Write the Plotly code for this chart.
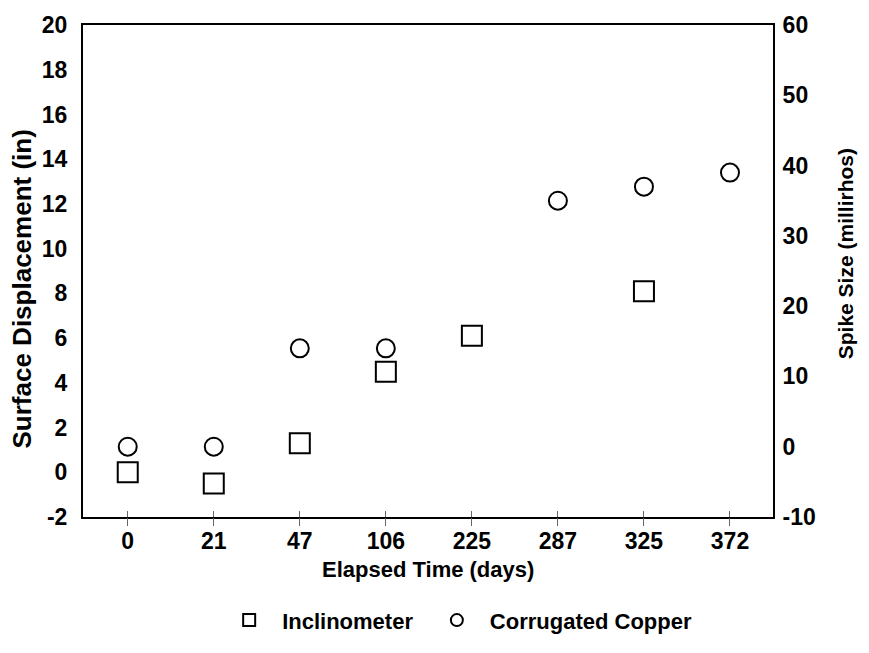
import plotly.graph_objects as go

categories = ["0", "21", "47", "106", "225", "287", "325", "372"]

incl_x = ["0", "21", "47", "106", "225", "325"]
incl_y = [0.0, -0.5, 1.3, 4.5, 6.1, 8.1]

copper_x = ["0", "21", "47", "106", "287", "325", "372"]
copper_y = [0, 0, 14, 14, 35, 37, 39]

left_ticks = [-2, 0, 2, 4, 6, 8, 10, 12, 14, 16, 18, 20]
right_ticks = [-10, 0, 10, 20, 30, 40, 50, 60]

FONT = "Liberation Sans, Arial, sans-serif"
BLACK = "#000000"

fig = go.Figure()

fig.add_trace(go.Scatter(
    x=incl_x, y=incl_y, mode="markers", name="Inclinometer", legend="legend",
    marker=dict(symbol="square-open", size=20, color=BLACK, line=dict(width=2, color=BLACK)),
    xaxis="x", yaxis="y",
))
fig.add_trace(go.Scatter(
    x=copper_x, y=copper_y, mode="markers", name="Corrugated Copper", legend="legend2",
    marker=dict(symbol="circle-open", size=18, color=BLACK, line=dict(width=2, color=BLACK)),
    xaxis="x", yaxis="y2",
))
# helper traces to carry the tick marks crossing the x axis line
fig.add_trace(go.Scatter(x=categories, y=[None] * len(categories), xaxis="x2", yaxis="y",
                         showlegend=False, hoverinfo="skip", mode="markers"))
fig.add_trace(go.Scatter(x=categories, y=[None] * len(categories), xaxis="x3", yaxis="y",
                         showlegend=False, hoverinfo="skip", mode="markers"))

tickfont = dict(family=FONT, size=23, color=BLACK, weight="bold")
legfont = dict(family=FONT, size=22, color=BLACK, weight="bold")
xcommon = dict(type="category", categoryorder="array", categoryarray=categories,
               range=[-0.52, 7.5], showgrid=False, zeroline=False)

fig.update_layout(
    width=869, height=653,
    margin=dict(l=83, r=96, t=22, b=136),
    paper_bgcolor="white", plot_bgcolor="white",
    showlegend=True,
    legend=dict(
        orientation="h", x=0.193, y=-0.21, xanchor="left", yanchor="middle",
        font=legfont, itemwidth=56, itemsizing="constant", bgcolor="rgba(0,0,0,0)",
    ),
    legend2=dict(
        orientation="h", x=0.494, y=-0.21, xanchor="left", yanchor="middle",
        font=legfont, itemwidth=56, itemsizing="constant", bgcolor="rgba(0,0,0,0)",
    ),
    xaxis=dict(
        **xcommon, showline=True, linecolor=BLACK, linewidth=2, mirror=True,
        ticks="", ticklabelstandoff=2, tickfont=tickfont,
    ),
    xaxis2=dict(
        **xcommon, overlaying="x", matches="x", side="bottom", showline=False,
        ticks="outside", ticklen=8, tickwidth=1, tickcolor="#666666", showticklabels=False,
    ),
    xaxis3=dict(
        **xcommon, overlaying="x", matches="x", side="bottom", showline=False,
        ticks="inside", ticklen=6, tickwidth=1, tickcolor="#666666", showticklabels=False,
    ),
    yaxis=dict(
        range=[-2, 20], tickvals=left_ticks, ticktext=[str(v) for v in left_ticks],
        showline=True, linecolor=BLACK, linewidth=2,
        showgrid=False, zeroline=False, ticks="", ticklabelstandoff=9, tickfont=tickfont,
    ),
    yaxis2=dict(
        range=[-10, 60], tickvals=right_ticks, ticktext=[str(v) for v in right_ticks],
        overlaying="y", side="right",
        showline=True, linecolor=BLACK, linewidth=2, showgrid=False, zeroline=False,
        ticks="", ticklabelstandoff=3, tickfont=tickfont,
    ),
    annotations=[
        dict(text="Surface Displacement (in)", xref="paper", yref="paper",
             x=-0.088, y=0.463, textangle=-90, showarrow=False, xanchor="center", yanchor="middle",
             font=dict(family=FONT, size=26, color=BLACK, weight="bold")),
        dict(text="Spike Size (millirhos)", xref="paper", yref="paper",
             x=1.1043, y=0.536, textangle=-90, showarrow=False, xanchor="center", yanchor="middle",
             font=dict(family=FONT, size=21, color=BLACK, weight="bold")),
        dict(text="Elapsed Time (days)", xref="paper", yref="paper",
             x=0.5, y=-0.106, showarrow=False, xanchor="center", yanchor="middle",
             font=dict(family=FONT, size=22, color=BLACK, weight="bold")),
    ],
)

fig.write_html("out.html")
